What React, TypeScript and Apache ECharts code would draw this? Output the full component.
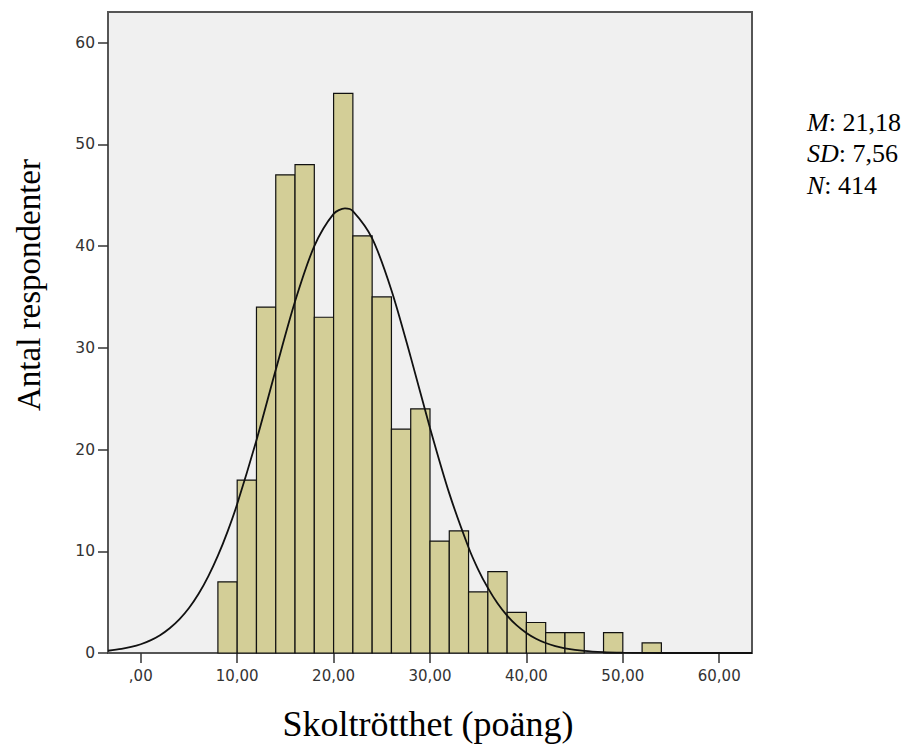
import React, { useEffect, useRef } from "react";
import * as echarts from "echarts";

// Histogram bins (lower edges), bin width and counts
const BIN_WIDTH = 2;
const binStarts = [8, 10, 12, 14, 16, 18, 20, 22, 24, 26, 28, 30, 32, 34, 36, 38, 40, 42, 44, 46, 48, 50, 52];
const counts = [7, 17, 34, 47, 48, 33, 55, 41, 35, 22, 24, 11, 12, 6, 8, 4, 3, 2, 2, 0, 2, 0, 1];

// Normal curve
const curveX = [-3.4, -2, -1, 0, 1, 2, 3, 4, 5, 6, 7, 8, 9, 10, 12, 14, 16, 18, 20, 21.18, 22, 24, 26, 28, 30, 32, 34, 35, 36, 37, 38, 39, 40, 41, 42, 43, 44, 46, 48, 50, 52, 54, 58, 63.4];
const curveY = [0.22, 0.4, 0.59, 0.86, 1.24, 1.75, 2.43, 3.3, 4.42, 5.82, 7.53, 9.56, 11.93, 14.64, 20.91, 27.83, 34.55, 39.99, 43.16, 43.69, 43.43, 40.75, 35.66, 29.08, 22.12, 15.69, 10.37, 8.2, 6.4, 4.89, 3.68, 2.71, 1.97, 1.4, 0.98, 0.68, 0.46, 0.2, 0.08, 0.03, 0.01, 0, 0, 0];

// Tick labels
const xTicks = [0, 10, 20, 30, 40, 50, 60];
const yTicks = [0, 10, 20, 30, 40, 50, 60];

const statLines = [
  { label: "M", value: ": 21,18" },
  { label: "SD", value: ": 7,56" },
  { label: "N", value: ": 414" },
];

const xTitle = "Skoltrötthet (poäng)";
const yTitle = "Antal respondenter";

const fmtX = (v: number) => {
  const s = v.toFixed(2).replace(".", ",");
  return s.startsWith("0,") ? s.slice(1) : s;
};

export default function App() {
  const ref = useRef<HTMLDivElement>(null);
  useEffect(() => {
    document.body.style.margin = "0";
    if (!ref.current) return;
    const chart = echarts.init(ref.current, undefined, { renderer: "svg" });
    const barData = binStarts
      .map((s, i) => [s, s + BIN_WIDTH, counts[i]])
      .filter((d) => d[2] > 0);
    const tickFont = { fontFamily: "DejaVu Sans", fontSize: 15, color: "#333" };
    chart.setOption({
      animation: false,
      backgroundColor: "#ffffff",
      grid: {
        left: 108,
        right: 153,
        top: 12,
        bottom: 91,
        show: true,
        backgroundColor: "#f0f0f0",
        borderColor: "#555555",
        borderWidth: 2,
      },
      xAxis: {
        type: "value",
        min: -3.4,
        max: 63.4,
        axisLine: { show: false, onZero: false },
        splitLine: { show: false },
        axisTick: { show: true, length: 10, customValues: xTicks, lineStyle: { color: "#333", width: 1.5 } },
        axisLabel: { ...tickFont, margin: 15, customValues: xTicks, formatter: (v: number) => fmtX(v) },
      },
      yAxis: {
        type: "value",
        min: 0,
        max: 63,
        axisLine: { show: false, onZero: false },
        splitLine: { show: false },
        axisTick: { show: true, length: 10, customValues: yTicks, lineStyle: { color: "#333", width: 1.5 } },
        axisLabel: { ...tickFont, fontSize: 15.5, margin: 13, customValues: yTicks },
      },
      series: [
        {
          type: "custom",
          data: barData,
          encode: { x: [0, 1], y: 2 },
          z: 2,
          renderItem: (params: any, api: any) => {
            const p0 = api.coord([api.value(0), api.value(2)]);
            const p1 = api.coord([api.value(1), 0]);
            return {
              type: "rect",
              shape: { x: p0[0], y: p0[1], width: p1[0] - p0[0], height: p1[1] - p0[1] },
              style: { fill: "#d3ce97", stroke: "#111", lineWidth: 1.2 },
            };
          },
        },
        {
          type: "line",
          data: curveX.map((x, i) => [x, curveY[i]]),
          smooth: 0.3,
          showSymbol: false,
          symbol: "none",
          z: 3,
          lineStyle: { color: "#111", width: 1.8 },
        },
      ],
      graphic: [
        {
          type: "text",
          x: 428,
          y: 724,
          style: {
            text: xTitle,
            fontFamily: "Liberation Serif",
            fontSize: 36,
            fill: "#000",
            align: "center",
            verticalAlign: "middle",
          },
        },
        {
          type: "text",
          x: 29,
          y: 285,
          rotation: Math.PI / 2,
          style: {
            text: yTitle,
            fontFamily: "Liberation Serif",
            fontSize: 33,
            fill: "#000",
            align: "center",
            verticalAlign: "middle",
          },
        },
        ...statLines.map((s, i) => ({
          type: "text",
          x: 807,
          y: 122 + i * 31.5,
          style: {
            text: `{i|${s.label}}{r|${s.value}}`,
            verticalAlign: "middle",
            rich: {
              i: { fontFamily: "Liberation Serif", fontSize: 26, fontStyle: "italic", fill: "#000" },
              r: { fontFamily: "Liberation Serif", fontSize: 26, fill: "#000" },
            },
          },
        })),
      ],
    });
    return () => chart.dispose();
  }, []);
  return <div ref={ref} style={{ width: 905, height: 744 }} />;
}
